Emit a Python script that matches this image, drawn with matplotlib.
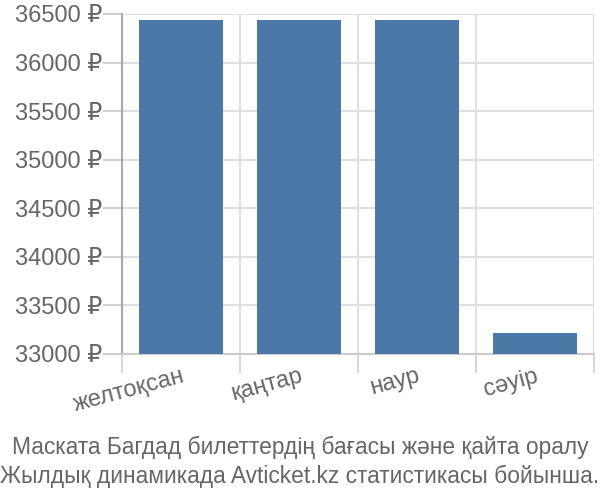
import matplotlib
matplotlib.use("Agg")
import matplotlib.pyplot as plt
import numpy as np

categories = ["желтоқсан", "қаңтар", "наур", "сәуір"]
prices = [36440, 36440, 36440, 33220]
yticks = [33000, 33500, 34000, 34500, 35000, 35500, 36000, 36500]
caption = "Маската Багдад билеттердің бағасы және қайта оралу\nЖылдық динамикада Avticket.kz статистикасы бойынша."

plt.rcParams['font.family'] = ['Liberation Sans', 'DejaVu Sans']

fig = plt.figure(figsize=(6, 5), dpi=100)
ax = fig.add_axes([122/600, 1-354/500, (594-122)/600, (354-14)/500])

x = np.arange(len(categories))
ax.bar(x, prices, width=0.72, color="#4c78a8", zorder=3)

ax.set_xlim(-0.5, len(categories) - 0.5)
ax.set_ylim(33000, 36500)
ax.set_yticks(yticks)
ax.set_yticklabels([f"{v} ₽" for v in yticks])
ax.set_xticks(x)
ax.set_xticklabels(categories, rotation=15, ha='right', va='top', rotation_mode='anchor')
ax.set_xticks(np.arange(-0.5, len(categories)), minor=True)

ax.tick_params(axis='y', which='major', length=14, color="#d0d0d0", width=1.5,
               labelsize=17, labelcolor="#666666", pad=0)
ax.tick_params(axis='x', which='major', length=0, labelsize=17, labelcolor="#666666", pad=8)
ax.tick_params(axis='x', which='minor', length=14, color="#d8d8d8", width=1.5)

ax.grid(axis='y', which='major', color="#e0e0e0", linewidth=1.5, zorder=0)
ax.grid(axis='x', which='minor', color="#e0e0e0", linewidth=1.5, zorder=0)
ax.grid(axis='x', which='major', visible=False)

for s in ['top', 'right']:
    ax.spines[s].set_visible(False)
ax.spines['left'].set_color("#aaaaaa")
ax.spines['left'].set_linewidth(1.5)
ax.spines['bottom'].set_color("#cccccc")
ax.spines['bottom'].set_linewidth(1.5)

fig.text(0.5, 1 - 462/500, caption, ha='center', va='center', fontsize=16.4,
         color="#666666", linespacing=1.3)

fig.savefig("out.png", dpi=100)
